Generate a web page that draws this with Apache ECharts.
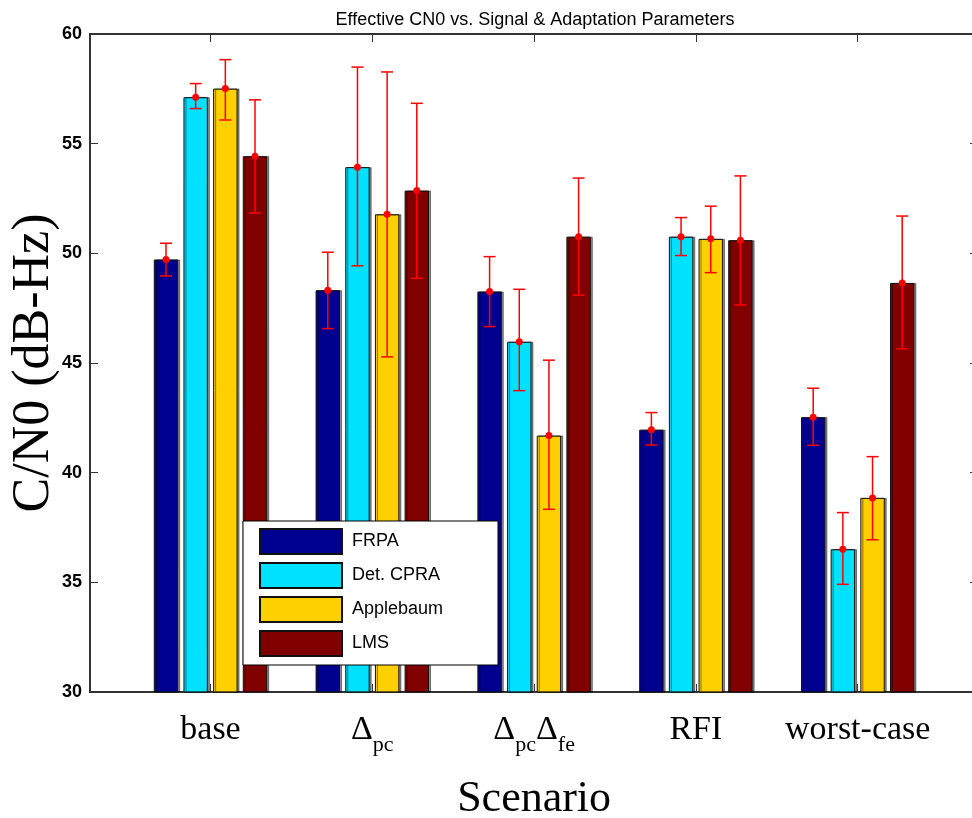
<!DOCTYPE html>
<html>
<head>
<meta charset="utf-8">
<script src="https://cdn.jsdelivr.net/npm/echarts@6/dist/echarts.min.js"></script>
<style>
html,body{margin:0;padding:0;background:#fff;}
#chart{width:972px;height:818px;}
</style>
</head>
<body>
<div id="chart"></div>
<script>
// ---- data ----
const categories = ['base', 'Δpc', 'ΔpcΔfe', 'RFI', 'worst-case'];
const categoryLabels = ['{m|base}', '{m|Δ}{s|pc}', '{m|Δ}{s|pc}{m|Δ}{s|fe}', '{m|RFI}', '{m|worst-case}'];
const seriesNames = ['FRPA', 'Det. CPRA', 'Applebaum', 'LMS'];

const frpaMean = [49.72, 48.32, 48.26, 41.96, 42.53];
const frpaLow  = [48.97, 46.57, 46.66, 41.26, 41.25];
const frpaHigh = [50.46, 50.05, 49.85, 42.74, 43.85];

const cpraMean = [57.12, 53.93, 45.97, 50.76, 36.51];
const cpraLow  = [56.60, 49.43, 43.74, 49.90, 34.91];
const cpraHigh = [57.74, 58.49, 48.36, 51.63, 38.18];

const appleMean = [57.51, 51.78, 41.69, 50.66, 38.85];
const appleLow  = [56.08, 45.28, 38.33, 49.12, 36.94];
const appleHigh = [58.83, 58.27, 45.13, 52.15, 40.73];

const lmsMean = [54.43, 52.86, 50.76, 50.60, 48.65];
const lmsLow  = [51.84, 48.86, 48.09, 47.65, 45.65];
const lmsHigh = [57.00, 56.84, 53.43, 53.53, 51.70];

const yTicks = [30, 35, 40, 45, 50, 55, 60];

// ---- style ----
const colors = ['#00008F', '#00E1FF', '#FFD000', '#800000'];
const BAR_W = 24.4;
const BAR_GAP = 0.216;
const CAP_W = 12;
const SANS = 'Liberation Sans, Arial, sans-serif';
const SERIF = 'Liberation Serif, Times New Roman, serif';

const means = [frpaMean, cpraMean, appleMean, lmsMean];
const lows = [frpaLow, cpraLow, appleLow, lmsLow];
const highs = [frpaHigh, cpraHigh, appleHigh, lmsHigh];

function errRender(sIdx) {
  return function (params, api) {
    const cat = api.value(0);
    const lo = api.coord([cat, api.value(1)]);
    const hi = api.coord([cat, api.value(2)]);
    const mid = api.coord([cat, api.value(3)]);
    const off = (sIdx - 1.5) * BAR_W * (1 + BAR_GAP);
    const x = lo[0] + off;
    const hw = CAP_W / 2;
    const st = { stroke: '#FF0000', lineWidth: 1.5 };
    return {
      type: 'group',
      children: [
        { type: 'line', shape: { x1: x, y1: hi[1], x2: x, y2: lo[1] }, style: st },
        { type: 'line', shape: { x1: x - hw, y1: hi[1], x2: x + hw, y2: hi[1] }, style: st },
        { type: 'line', shape: { x1: x - hw, y1: lo[1], x2: x + hw, y2: lo[1] }, style: st },
        { type: 'circle', shape: { cx: x, cy: mid[1], r: 3.5 }, style: { fill: '#FF0000' } }
      ]
    };
  };
}

const series = [];
seriesNames.forEach(function (name, i) {
  series.push({
    name: name,
    type: 'bar',
    xAxisIndex: 1,
    yAxisIndex: 2,
    barWidth: BAR_W,
    barGap: (BAR_GAP * 100) + '%',
    data: means[i],
    itemStyle: {
      color: colors[i],
      borderColor: '#111',
      borderWidth: 1,
      shadowColor: 'rgba(0,0,0,0.45)',
      shadowOffsetX: 2,
      shadowBlur: 0
    },
    emphasis: { disabled: true },
    z: 2
  });
});
seriesNames.forEach(function (name, i) {
  series.push({
    type: 'custom',
    xAxisIndex: 1,
    yAxisIndex: 2,
    renderItem: errRender(i),
    encode: { x: 0, y: [1, 2, 3] },
    data: categories.map(function (c, k) { return [k, lows[i][k], highs[i][k], means[i][k]]; }),
    z: 3,
    silent: true
  });
});

const chart = echarts.init(document.getElementById('chart'), null, { renderer: 'canvas' });
chart.setOption({
  backgroundColor: '#ffffff',
  animation: false,
  title: {
    text: 'Effective CN0 vs. Signal & Adaptation Parameters',
    left: 535,
    textAlign: 'center',
    top: 11,
    padding: 0,
    textStyle: { fontFamily: SANS, fontSize: 18, fontWeight: 'normal', color: '#000' }
  },
  legend: {
    data: seriesNames,
    orient: 'vertical',
    left: 243,
    top: 521,
    itemWidth: 82,
    itemHeight: 25,
    itemGap: 7,
    icon: 'rect',
    padding: [7, 49, 8, 16],
    backgroundColor: '#ffffff',
    borderColor: '#000',
    borderWidth: 1,
    borderRadius: 0,
    z: 10,
    textStyle: { fontFamily: SANS, fontSize: 18, color: '#000', width: 97, lineHeight: 25, padding: [0, 0, 0, 5] }
  },
  grid: [
    { left: 90, right: -6, top: 34, bottom: 126, outerBoundsMode: 'none', containLabel: false,
      show: true, borderColor: '#333', borderWidth: 2, backgroundColor: 'transparent' },
    { left: 129.6, width: 809, top: 34, bottom: 126, outerBoundsMode: 'none', containLabel: false }
  ],
  xAxis: [
    { type: 'value', gridIndex: 0, min: 0, max: 1, show: false },
    {
      type: 'category', gridIndex: 1, position: 'bottom', data: categories,
      axisLine: { show: false },
      axisTick: { show: true, inside: true, length: 8, alignWithLabel: true, lineStyle: { color: '#333' } },
      axisLabel: {
        margin: 21,
        interval: 0,
        formatter: function (v, idx) { return categoryLabels[idx]; },
        rich: {
          m: { fontFamily: SERIF, fontSize: 34, color: '#000', verticalAlign: 'top' },
          s: { fontFamily: SERIF, fontSize: 22, color: '#000', verticalAlign: 'top', padding: [21, 0, 0, 0] }
        }
      },
      name: 'Scenario',
      nameLocation: 'middle',
      nameGap: 85,
      nameMoveOverlap: false,
      nameTextStyle: { fontFamily: SERIF, fontSize: 44, color: '#000' },
      splitLine: { show: false }
    },
    {
      type: 'category', gridIndex: 1, position: 'top', data: categories,
      axisLine: { show: false },
      axisTick: { show: true, inside: true, length: 8, alignWithLabel: true, lineStyle: { color: '#333' } },
      axisLabel: { show: false },
      splitLine: { show: false }
    }
  ],
  yAxis: [
    {
      type: 'value', gridIndex: 0, position: 'left',
      min: yTicks[0], max: yTicks[yTicks.length - 1], interval: 5,
      axisLine: { show: false },
      axisTick: { show: true, inside: true, length: 8, lineStyle: { color: '#333' } },
      axisLabel: { fontFamily: SANS, fontSize: 18, fontWeight: 'bold', color: '#000', margin: 8 },
      splitLine: { show: false },
      name: 'C/N0 (dB-Hz)',
      nameLocation: 'middle',
      nameRotate: 90,
      nameGap: 30,
      nameMoveOverlap: false,
      nameTextStyle: { fontFamily: SERIF, fontSize: 52, color: '#000' }
    },
    {
      type: 'value', gridIndex: 0, position: 'right',
      min: yTicks[0], max: yTicks[yTicks.length - 1], interval: 5,
      axisLine: { show: false },
      axisTick: { show: true, inside: true, length: 8, lineStyle: { color: '#333' } },
      axisLabel: { show: false },
      splitLine: { show: false }
    },
    {
      type: 'value', gridIndex: 1,
      min: yTicks[0], max: yTicks[yTicks.length - 1], interval: 5,
      show: false,
      splitLine: { show: false }
    }
  ],
  series: series
});
</script>
</body>
</html>
